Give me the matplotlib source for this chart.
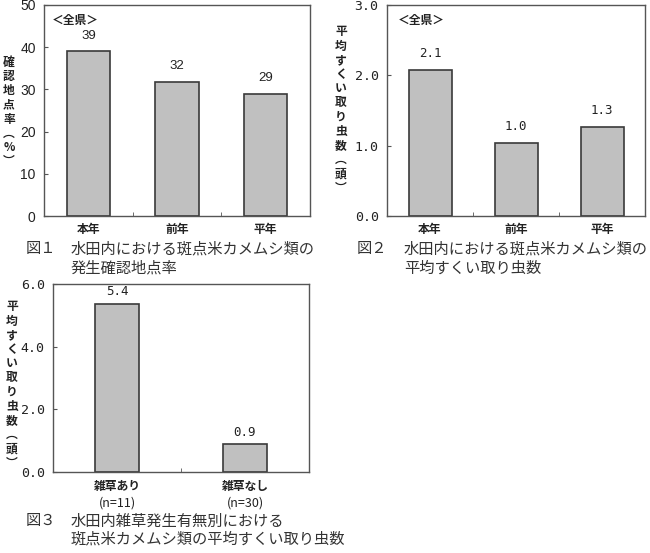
import matplotlib
matplotlib.use("Agg")
import matplotlib.pyplot as plt

plt.rcParams['font.family'] = ['Noto Sans CJK JP', 'DejaVu Sans']

# Data
cat1 = ["本年", "前年", "平年"]
val1 = [39.0, 31.8, 28.9]
cat2 = ["本年", "前年", "平年"]
val2 = [2.08, 1.04, 1.27]
cat3 = ["雑草あり", "雑草なし"]
n3 = ["(n=11)", "(n=30)"]
val3 = [5.36, 0.88]

ylab1 = "確認地点率︵%︶"
ylab2 = "平均すくい取り虫数︵頭︶"
ylab3 = "平均すくい取り虫数︵頭︶"

cap1 = ("図１", "水田内における斑点米カメムシ類の", "発生確認地点率")
cap2 = ("図２", "水田内における斑点米カメムシ類の", "平均すくい取り虫数")
cap3 = ("図３", "水田内雑草発生有無別における", "斑点米カメムシ類の平均すくい取り虫数")

W, H = 650, 553
fig = plt.figure(figsize=(6.5, 5.53), dpi=100)

def px_axes(l, t, r, b):
    return fig.add_axes([l / W, 1 - b / H, (r - l) / W, (b - t) / H])

BAR = "#c0c0c0"
EDGE = "#3a3a3a"
SPINE = "#555555"
TXT = "#222222"

def style(ax, ymax, step, fmt, cats, mono):
    for s in ax.spines.values():
        s.set_color(SPINE)
        s.set_linewidth(1.0)
    ax.set_ylim(0, ymax)
    n = len(cats)
    ax.set_xlim(-0.5, n - 0.5)
    ticks = [i * step for i in range(int(round(ymax / step)) + 1)]
    ax.set_yticks(ticks)
    ax.set_yticklabels([fmt % t for t in ticks],
                       fontsize=9.5 if mono else 10, color=TXT,
                       family=['DejaVu Sans Mono'] if mono else ['Liberation Sans'])
    ax.tick_params(axis='y', direction='in', length=3, color=SPINE, pad=6)
    ax.set_xticks([i + 0.5 for i in range(n - 1)], minor=True)
    ax.tick_params(axis='x', which='minor', direction='in', length=3, color=SPINE)
    ax.set_xticks(range(n))
    ax.set_xticklabels(cats, fontsize=8.5, fontweight='bold', color=TXT)
    ax.tick_params(axis='x', which='major', length=0, pad=5)

def vlabel(x, yc, s, size=8.5):
    fig.text(x / W, 1 - yc / H, "\n".join(s), ha='center', va='center',
             fontsize=size, fontweight='bold', linespacing=1.12, color=TXT)

def caption(xf, xt, y1, y2, cap, size=11):
    c = "#333333"
    fig.text(xf / W, 1 - y1 / H, cap[0], fontsize=size, color=c, va='center')
    fig.text(xt / W, 1 - y1 / H, cap[1], fontsize=size, color=c, va='center')
    fig.text(xt / W, 1 - y2 / H, cap[2], fontsize=size, color=c, va='center')

# Chart 1
ax1 = px_axes(44, 5, 310, 216)
b1 = ax1.bar(range(len(cat1)), val1, width=0.49, color=BAR, edgecolor=EDGE, linewidth=1.2)
ax1.bar_label(b1, labels=["%.0f" % v for v in val1], padding=7, fontsize=9.5,
              family=['Liberation Sans'], color=TXT)
style(ax1, 50, 10, "%d", cat1, False)
ax1.text(0.03, 0.925, "＜全県＞", transform=ax1.transAxes, fontsize=8.5,
         fontweight='bold', va='center', color=TXT)
vlabel(9, 112, ylab1)

# Chart 2
ax2 = px_axes(387, 5, 645, 216)
b2 = ax2.bar(range(len(cat2)), val2, width=0.5, color=BAR, edgecolor=EDGE, linewidth=1.2)
ax2.bar_label(b2, labels=["%.1f" % v for v in val2], padding=7, fontsize=9,
              family=['DejaVu Sans Mono'], color=TXT)
style(ax2, 3.0, 1.0, "%.1f", cat2, True)
ax2.text(0.04, 0.925, "＜全県＞", transform=ax2.transAxes, fontsize=8.5,
         fontweight='bold', va='center', color=TXT)
vlabel(341, 110, ylab2)

# Chart 3
ax3 = px_axes(53, 284, 309, 472)
b3 = ax3.bar(range(len(cat3)), val3, width=0.336, color=BAR, edgecolor=EDGE, linewidth=1.2)
ax3.bar_label(b3, labels=["%.1f" % v for v in val3], padding=4, fontsize=9,
              family=['DejaVu Sans Mono'], color=TXT)
style(ax3, 6.0, 2.0, "%.1f", cat3, True)
ax3.tick_params(axis='x', which='major', pad=6)
for i, s in enumerate(n3):
    ax3.annotate(s, xy=(i, 0), xycoords=('data', 'axes fraction'),
                 xytext=(0, -31), textcoords='offset pixels', ha='center',
                 va='center', fontsize=9, color=TXT)
vlabel(12, 385, ylab3)

caption(26, 71, 249, 268, cap1)
caption(357, 404, 249, 268, cap2)
caption(26, 71, 521, 539, cap3)

fig.savefig("out.png", dpi=100)
